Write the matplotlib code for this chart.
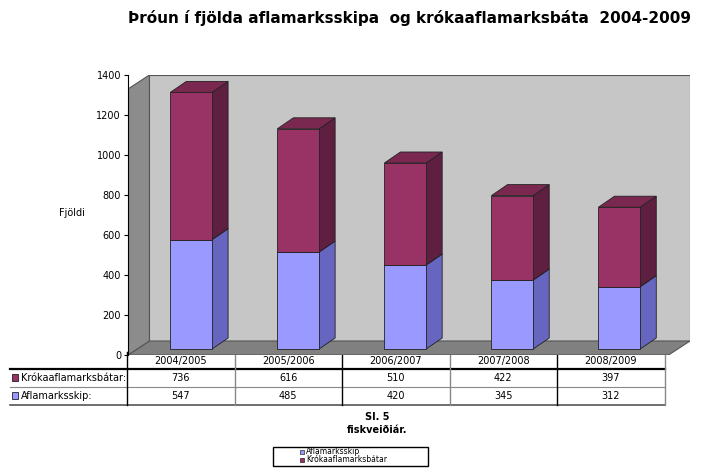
import matplotlib
matplotlib.use("Agg")
import matplotlib.pyplot as plt
from matplotlib.patches import Polygon, Rectangle

seasons = ["2004/2005", "2005/2006", "2006/2007", "2007/2008", "2008/2009"]
kroka = [736, 616, 510, 422, 397]
afla = [547, 485, 420, 345, 312]
yticks = [0, 200, 400, 600, 800, 1000, 1200, 1400]

W, H = 713, 468
fig = plt.figure(figsize=(W/100, H/100), dpi=100)
ax = fig.add_axes([128/W, 1-355/H, 562/W, 280/H])
ax.set_xlim(-0.59, 4.66)
ax.set_ylim(0, 1400)
ax.set_zorder(1)

dx, dy = 0.2, 70
ax.add_patch(Polygon([(-0.59+dx, dy), (4.66, dy), (4.66, 1400), (-0.59+dx, 1400)], closed=True,
                     facecolor="#c6c6c6", edgecolor="#555555", lw=0.8, zorder=0))
ax.add_patch(Polygon([(-0.59, 0), (4.66-dx, 0), (4.66, dy), (-0.59+dx, dy)], closed=True,
                     facecolor="#808080", edgecolor="#555555", lw=0.8, zorder=0))
ax.add_patch(Polygon([(-0.59, 0), (-0.59+dx, dy), (-0.59+dx, 1400), (-0.59, 1400-dy)], closed=True,
                     facecolor="#8c8c8c", edgecolor="#555555", lw=0.8, zorder=0))

bw = 0.39
bdx, bdy = 0.15, 55
def bar3d(x, y0, h, front, side, top):
    l, r = x-bw/2, x+bw/2
    ax.add_patch(Polygon([(r, y0), (r+bdx, y0+bdy), (r+bdx, y0+h+bdy), (r, y0+h)],
                         facecolor=side, edgecolor="#222222", lw=0.6, zorder=2))
    ax.add_patch(Polygon([(l, y0+h), (r, y0+h), (r+bdx, y0+h+bdy), (l+bdx, y0+h+bdy)],
                         facecolor=top, edgecolor="#222222", lw=0.6, zorder=2))
    ax.add_patch(Rectangle((l, y0), bw, h, facecolor=front, edgecolor="#222222", lw=0.6, zorder=3))

for i in range(len(seasons)):
    bar3d(i, 30, afla[i], "#9999ff", "#6666c0", "#7777dd")
    bar3d(i, 30+afla[i], kroka[i], "#993366", "#5e1f40", "#7a2850")

ax.set_yticks(yticks)
ax.set_yticklabels([str(t) for t in yticks], fontsize=7)
ax.set_xticks([])
for s in ax.spines.values():
    s.set_visible(False)
ax.spines["left"].set_visible(True)
ax.tick_params(axis="y", length=3, pad=2)

fig.text(410/W, 1-18/H, "Þróun í fjölda aflamarksskipa  og krókaaflamarksbáta  2004-2009",
         ha="center", va="center", fontsize=11, fontweight="bold")
fig.text(72/W, 1-213/H, "Fjöldi", ha="center", va="center", fontsize=7)

tax = fig.add_axes([0, 0, 1, 1], facecolor="none")
tax.set_xlim(0, W); tax.set_ylim(H, 0); tax.axis("off")
cols = [127 + 107.5*i for i in range(6)]
tax.plot([127, 665], [352, 352], color="#555555", lw=0.8)
tax.plot([10, 665], [369, 369], color="black", lw=1.6)
tax.plot([10, 665], [387, 387], color="#888888", lw=0.8)
tax.plot([10, 665], [405, 405], color="#555555", lw=1.2)
for j, c in enumerate(cols):
    tax.plot([c, c], [352, 405], color="black" if j % 2 == 0 else "#888888", lw=1.0)
for i, s in enumerate(seasons):
    cx = (cols[i]+cols[i+1])/2
    tax.text(cx, 361, s, ha="center", va="center", fontsize=7)
    tax.text(cx, 378, str(kroka[i]), ha="center", va="center", fontsize=7)
    tax.text(cx, 396, str(afla[i]), ha="center", va="center", fontsize=7)
tax.add_patch(Rectangle((12, 374), 6, 7, facecolor="#993366", edgecolor="black", lw=0.5))
tax.add_patch(Rectangle((12, 392), 6, 7, facecolor="#9999ff", edgecolor="black", lw=0.5))
tax.text(21, 378, "Krókaaflamarksbátar:", ha="left", va="center", fontsize=7)
tax.text(21, 396, "Aflamarksskip:", ha="left", va="center", fontsize=7)

tax.text(377, 417, "Sl. 5", ha="center", va="center", fontsize=7, fontweight="bold")
tax.text(377, 430, "fiskveiðiár.", ha="center", va="center", fontsize=7, fontweight="bold")

tax.add_patch(Rectangle((273, 447), 155, 19, facecolor="white", edgecolor="black", lw=1.0))
tax.add_patch(Rectangle((300, 450), 4, 4, facecolor="#9999ff", edgecolor="black", lw=0.4))
tax.add_patch(Rectangle((300, 458), 4, 4, facecolor="#993366", edgecolor="black", lw=0.4))
tax.text(306, 452, "Aflamarksskip", ha="left", va="center", fontsize=5.5)
tax.text(306, 460, "Krókaaflamarksbátar", ha="left", va="center", fontsize=5.5)

fig.savefig("out.png", dpi=100, facecolor="white")
